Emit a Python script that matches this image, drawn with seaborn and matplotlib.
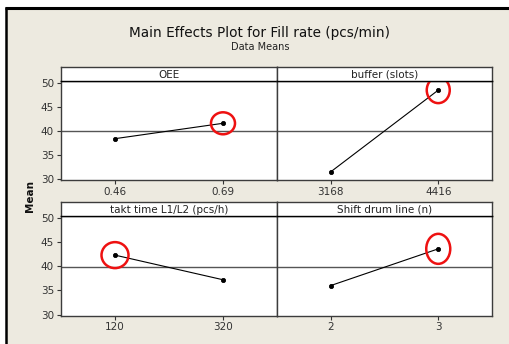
import numpy as np
import pandas as pd
import matplotlib
matplotlib.use("Agg")
import matplotlib.pyplot as plt
import seaborn as sns
from matplotlib.patches import Ellipse, Rectangle
from matplotlib.lines import Line2D
from matplotlib.transforms import ScaledTranslation

# ---------------- data ----------------
factor_names = ["OEE", "buffer (slots)", "takt time L1/L2 (pcs/h)", "Shift drum line (n)"]
oee_levels = ["0.46", "0.69"]
oee_means = [38.4, 41.6]
buffer_levels = ["3168", "4416"]
buffer_means = [31.5, 48.5]
takt_levels = ["120", "320"]
takt_means = [42.3, 37.2]
shift_levels = ["2", "3"]
shift_means = [36.0, 43.6]
grand_mean = 39.9
y_ticks = [30, 35, 40, 45, 50]
# highlighted level index per factor (red circles)
highlight_index = [1, 1, 0, 1]

title = "Main Effects Plot for Fill rate (pcs/min)"
subtitle = "Data Means"
y_label = "Mean"

levels_all = [oee_levels, buffer_levels, takt_levels, shift_levels]
means_all = [oee_means, buffer_means, takt_means, shift_means]

# ---------------- style ----------------
sns.set_theme(style="white")
plt.rcParams["font.family"] = ["DejaVu Sans"]

W, H = 510, 344
fig = plt.figure(figsize=(W / 100, H / 100), dpi=100, facecolor="white")

beige = "#EDEAE0"
# background panel and frame lines
fig.patches.append(Rectangle((6 / W, 0), 1, 1 - 7 / H, transform=fig.transFigure,
                             facecolor=beige, edgecolor="none", zorder=-10))
fig.lines.append(Line2D([5 / W, 1], [1 - 8 / H, 1 - 8 / H], transform=fig.transFigure,
                        color="black", lw=2.2, solid_capstyle="butt"))
fig.lines.append(Line2D([6 / W, 6 / W], [0, 1 - 7 / H], transform=fig.transFigure,
                        color="black", lw=1.8, solid_capstyle="butt"))

# panel geometry in pixels (left, top, width, height of plot area)
col_x = [61, 277]
col_w = [216, 215]
row_top = [81, 216]
row_h = [99, 99.5]
strip_h = 14

ellipse_px = [(24, 22), (23, 26), (27, 26), (24, 30)]

edge_col = "#3c3c3c"
tick_col = "#333333"

for i in range(4):
    r, c = divmod(i, 2)
    left = col_x[c] / W
    width = col_w[c] / W
    bottom = 1 - (row_top[r] + row_h[r]) / H
    height = row_h[r] / H
    ax = fig.add_axes([left, bottom, width, height])
    ax.set_facecolor("white")

    df = pd.DataFrame({"level": levels_all[i], "mean": means_all[i]})
    ax.axhline(grand_mean, color="#555555", lw=1.0, zorder=1)
    sns.pointplot(data=df, x="level", y="mean", order=levels_all[i], ax=ax,
                  color="black", markers="o", markersize=3.0, linewidth=0.8,
                  errorbar=None)
    ax.set_xlim(-0.5, 1.5)
    ax.set_ylim(29.8, 50.4)
    ax.set_xlabel("")
    ax.set_ylabel("")
    ax.set_yticks(y_ticks)
    ax.tick_params(axis="both", direction="out", length=3, width=0.8,
                   color=tick_col, labelsize=7.5, labelcolor=tick_col, pad=2,
                   bottom=True, left=(c == 0))
    if c == 1:
        ax.set_yticklabels([])
    for s in ax.spines.values():
        s.set_color(edge_col)
        s.set_linewidth(1.0)

    # red highlight ellipse around selected level
    k = highlight_index[i]
    wpx, hpx = ellipse_px[i]
    tr = fig.dpi_scale_trans + ScaledTranslation(k, means_all[i][k], ax.transData)
    ax.add_patch(Ellipse((0, 0), wpx / 100, hpx / 100, transform=tr,
                         facecolor="none", edgecolor="#ee1111", lw=1.8,
                         zorder=5, clip_on=False))

    # strip
    sax = fig.add_axes([left, 1 - row_top[r] / H, width, strip_h / H])
    sax.set_facecolor("white")
    sax.set_xticks([])
    sax.set_yticks([])
    for s in sax.spines.values():
        s.set_color(edge_col)
        s.set_linewidth(1.0)
    sax.spines["bottom"].set_color("black")
    sax.text(0.5, 0.45, factor_names[i], ha="center", va="center",
             fontsize=7.5, color="#222222", transform=sax.transAxes)

fig.text(260 / W, 1 - 33 / H, title, ha="center", va="center",
         fontsize=9.8, color="#111111", fontweight="medium")
fig.text(260 / W, 1 - 47.5 / H, subtitle, ha="center", va="center",
         fontsize=7, color="#222222")
fig.text(30 / W, 1 - 196 / H, y_label, ha="center", va="center",
         rotation=90, fontsize=7.5, fontweight="bold", color="#111111")

fig.savefig("out.png", dpi=100, facecolor="white")
